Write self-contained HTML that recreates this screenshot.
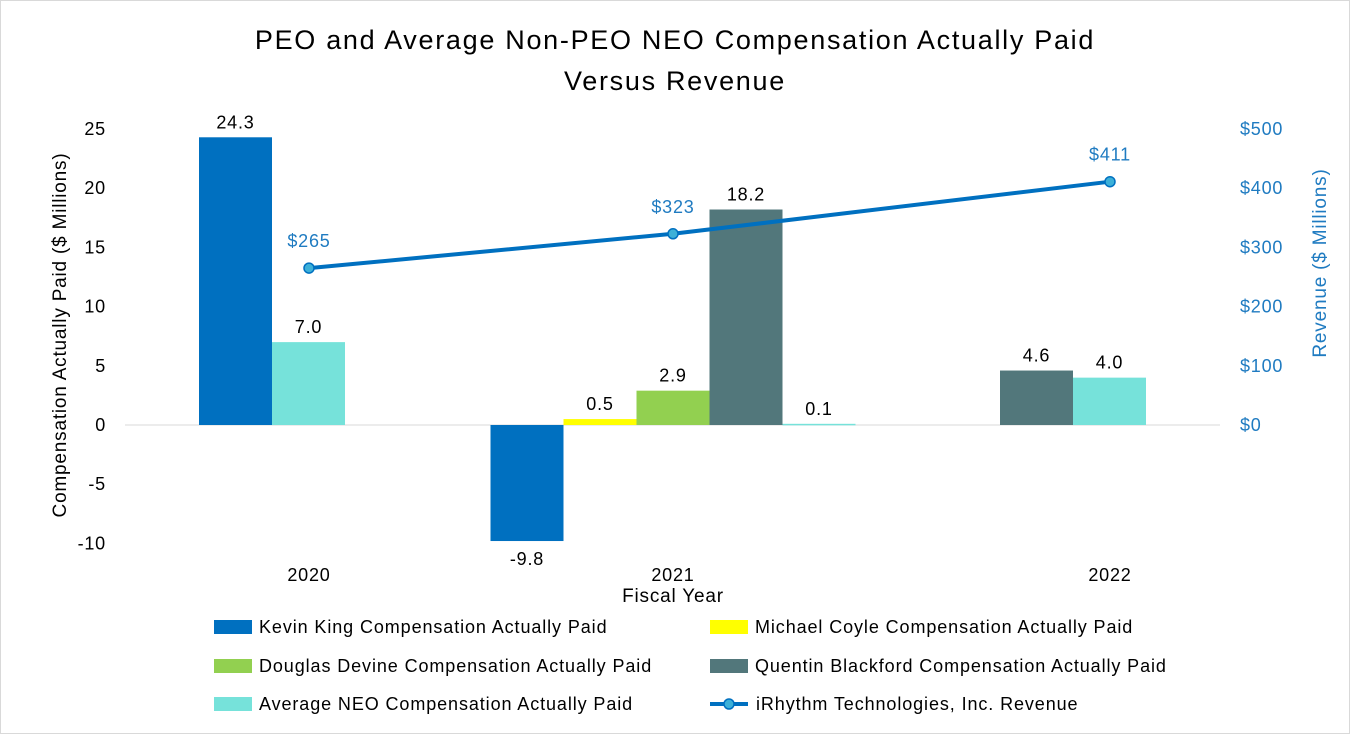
<!DOCTYPE html>
<html><head><meta charset="utf-8"><style>
body{margin:0;background:#fff;}
svg{display:block;font-family:"Liberation Sans",sans-serif;}
</style></head><body>
<svg id="chart" width="1350" height="734">
<rect x="0.5" y="0.5" width="1349" height="733" fill="#fff" stroke="#d9d9d9"/>
<text x="675" y="49" font-size="27" letter-spacing="1.7" text-anchor="middle" fill="#000">PEO and Average Non-PEO NEO Compensation Actually Paid</text>
<text x="675" y="90" font-size="27" letter-spacing="1.7" text-anchor="middle" fill="#000">Versus Revenue</text>
<g id="g"></g>
</svg>
<script>
const categories=["2020","2021","2022"];
const seriesNames=["Kevin King Compensation Actually Paid","Michael Coyle Compensation Actually Paid","Douglas Devine Compensation Actually Paid","Quentin Blackford Compensation Actually Paid","Average NEO Compensation Actually Paid"];
const kevin=[24.3,-9.8,null];
const michael=[null,0.5,null];
const douglas=[null,2.9,null];
const quentin=[null,18.2,4.6];
const average=[7.0,0.1,4.0];
const revenue=[265,323,411];
const leftTicks=[25,20,15,10,5,0,-5,-10];
const rightTicks=[500,400,300,200,100,0];
const colors=["#0070C0","#FFFF00","#92D050","#52777B","#76E2DA"];
const NS="http://www.w3.org/2000/svg";
const g=document.getElementById('g');
function el(t,a,txt){const e=document.createElementNS(NS,t);for(const k in a)e.setAttribute(k,a[k]);if(txt!==undefined)e.textContent=txt;g.appendChild(e);return e;}
const y0=425,unit=59.2/5;
function yL(v){return y0-v*unit;}
function yR(v){return y0-v*(296/500);}
const barGroupCenter=[272,673,1073];
const labelCenter=[309,673,1110];
const bw=73;
el('line',{x1:125,x2:1220,y1:y0,y2:y0,stroke:'#d9d9d9','stroke-width':1});
leftTicks.forEach(t=>{const e=el('text',{x:106,y:yL(t)+6,'font-size':18,'letter-spacing':0.8,'text-anchor':'end',fill:'#000'},String(t));
});
rightTicks.forEach(t=>{const e=el('text',{x:1240,y:yR(t)+6,'font-size':18,'letter-spacing':0.8,'text-anchor':'start',fill:'#1F7BC1'},'$'+t);
});
categories.forEach((c,i)=>{const e=el('text',{x:labelCenter[i],y:581,'font-size':18,'letter-spacing':0.8,'text-anchor':'middle',fill:'#000'},c);
});
const all=[kevin,michael,douglas,quentin,average];
categories.forEach((c,i)=>{
 const present=[];all.forEach((s,k)=>{if(s[i]!==null)present.push(k);});
 const n=present.length;
 present.forEach((k,j)=>{
  const v=all[k][i];const x=barGroupCenter[i]-n*bw/2+j*bw;
  const y=Math.min(yL(v),y0),h=Math.abs(yL(v)-y0);
  const r=el('rect',{x:x,y:y,width:bw,height:Math.max(h,1.5),fill:colors[k]});
  
  const ly=v>=0?yL(v)-9:yL(v)+24;
  const t=el('text',{x:x+bw/2,y:ly,'font-size':18,'letter-spacing':0.8,'text-anchor':'middle',fill:'#000'},v.toFixed(1));
  
 });
});
const pts=revenue.map((v,i)=>[labelCenter[i],yR(v)]);
const pl=el('polyline',{points:pts.map(p=>p.join(',')).join(' '),fill:'none',stroke:'#0070C0','stroke-width':4});

pts.forEach((p,i)=>{const c=el('circle',{cx:p[0],cy:p[1],r:5,fill:'#3CB0D8',stroke:'#0070C0','stroke-width':1.5});

const t=el('text',{x:p[0],y:p[1]-21,'font-size':18,'letter-spacing':0.8,'text-anchor':'middle',fill:'#1F7BC1'},'$'+revenue[i]);
});
const yt=el('text',{transform:'translate(66,335) rotate(-90)','font-size':19,'letter-spacing':0.8,'text-anchor':'middle',fill:'#000'},'Compensation Actually Paid ($ Millions)');

const rt=el('text',{transform:'translate(1326,263) rotate(-90)','font-size':19,'letter-spacing':0.8,'text-anchor':'middle',fill:'#1F7BC1'},'Revenue ($ Millions)');

const xt=el('text',{x:673,y:602,'font-size':19,'letter-spacing':0.8,'text-anchor':'middle',fill:'#000'},'Fiscal Year');

const legendItems=[[0,214,627],[1,710,627],[2,214,666],[3,710,666],[4,214,704]];
legendItems.forEach(([k,x,y])=>{
 const r=el('rect',{x:x,y:y-7,width:38,height:14,fill:colors[k]});
 
 const t=el('text',{x:x+45,y:y+6,'font-size':18,'letter-spacing':0.9,fill:'#000'},seriesNames[k]);
 
});
const ll=el('line',{x1:710,x2:748,y1:704,y2:704,stroke:'#0070C0','stroke-width':4});

const lc=el('circle',{cx:729,cy:704,r:5,fill:'#3CB0D8',stroke:'#0070C0','stroke-width':1.5});

const lt=el('text',{x:756,y:710,'font-size':18,'letter-spacing':0.9,fill:'#000'},'iRhythm Technologies, Inc. Revenue');

</script>
</body></html>
